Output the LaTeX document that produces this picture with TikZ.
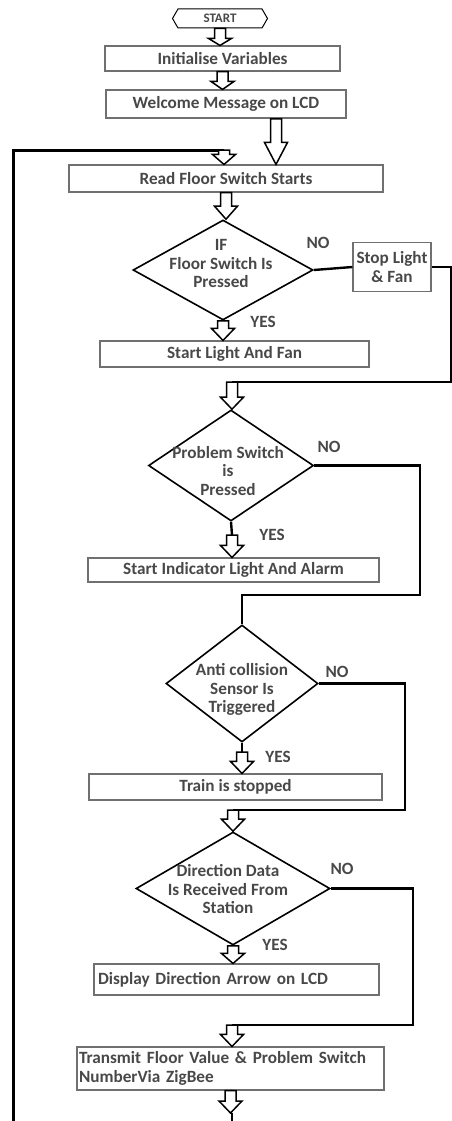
\documentclass[tikz,border=0pt]{standalone}
\usepackage{fontspec}
\setmainfont{Carlito}
\usetikzlibrary{calc,shapes.geometric,shapes.symbols}
\definecolor{txtc}{HTML}{484848}
\definecolor{boxc}{HTML}{707070}
% hollow block arrow from #2 down to #3, head length #1
\newcommand\harr[3][10]{\draw[harrow] let \p1=#2, \p2=#3 in
  (\x1-5.5pt,\y1) -- (\x1-5.5pt,\y2+#1pt) -- (\x1-11.5pt,\y2+#1pt) -- (\x1,\y2)
  -- (\x1+11.5pt,\y2+#1pt) -- (\x1+5.5pt,\y2+#1pt) -- (\x1+5.5pt,\y1) -- cycle;}
\begin{document}
\begin{tikzpicture}[x=1pt,y=-1pt,
  every node/.style={font=\fontsize{17.2}{18.5}\selectfont\bfseries, text=txtc},
  box/.style={draw=boxc, line width=1.1pt, rectangle, inner sep=0pt},
  dia/.style={draw=black, line width=1.6pt, diamond, inner sep=0pt},
  dtext/.style={align=center, inner sep=0pt},
  conn/.style={draw=black, line width=2.4pt},
  harrow/.style={draw=black, line width=1.5pt, fill=white, line join=miter},
  lbl/.style={inner sep=0pt}]
\useasboundingbox (0,0) rectangle (452,1121);

% nodes
\node[draw=black, line width=1pt, signal, signal to=east and west, signal pointer angle=120,
      minimum width=95, minimum height=19, inner sep=0pt,
      font=\fontsize{13}{14}\selectfont\bfseries] (start) at (220,18.5) {START};
\node[box, minimum width=235, minimum height=25] (init) at (222.5,58.5) {Initialise Variables};
\node[box, minimum width=240, minimum height=28] (welcome) at (226,104) {Welcome Message on LCD};
\node[box, minimum width=314, minimum height=27] (read) at (226,178.5) {Read Floor Switch Starts};

\node[dia, minimum width=180, minimum height=100] (d1) at (223,270) {};
\node[dtext] (d1t) at (221,263.5) {IF\\Floor Switch Is\\Pressed};
\node[box, minimum width=78, minimum height=49, align=center] (stop) at (392,267) {Stop Light\\\& Fan};
\node[box, minimum width=269, minimum height=26] (lightfan) at (234.5,354) {Start Light And Fan};

\node[dia, minimum width=165, minimum height=111] (d2) at (231,465.5) {};
\node[dtext] (d2t) at (228,471) {Problem Switch\\is\\Pressed};
\node[box, minimum width=291, minimum height=24] (alarm) at (233.5,570) {Start Indicator Light And Alarm};

\node[dia, minimum width=152, minimum height=117] (d3) at (242,683.5) {};
\node[dtext] (d3t) at (242,689.5) {Anti collision\\Sensor Is\\Triggered};
\node[box, minimum width=293, minimum height=26] (stopped) at (235.5,787) {Train is stopped};

\node[dia, minimum width=194, minimum height=113] (d4) at (233,888.5) {};
\node[dtext] (d4t) at (228,889.5) {Direction Data\\Is Received From\\Station};
\node[box, minimum width=285, minimum height=31, text width=277, inner xsep=4pt, align=left]
      (display) at (236.5,979.5) {Display Direction Arrow on LCD};
\node[box, minimum width=307, minimum height=43, text width=303, inner xsep=2pt, align=left]
      (transmit) at (230.5,1068.5) {Transmit Floor Value \& Problem Switch\\NumberVia ZigBee};

% labels
\node[lbl] (no1) at (318,243) {NO};
\node[lbl] (yes1) at (263,322) {YES};
\node[lbl] (no2) at (329,447) {NO};
\node[lbl] (yes2) at (272,535) {YES};
\node[lbl] (no3) at (337,672) {NO};
\node[lbl] (yes3) at (278,757) {YES};
\node[lbl] (no4) at (342,869) {NO};
\node[lbl] (yes4) at (275,945) {YES};

% coordinates
\coordinate (wa) at (276,119);
\coordinate (la) at (13,1121);
\coordinate (lb) at (13,150);
\coordinate (lc) at (224,150);
\coordinate (s1) at (451,382);
\coordinate (s2) at (232,382);
\coordinate (p1) at (420,595);
\coordinate (p2) at (242,595);
\coordinate (y2) at (232,535);
\coordinate (a1) at (405,810);
\coordinate (a2) at (233,810);
\coordinate (y3) at (242,752);
\coordinate (q1) at (413,1025);
\coordinate (q2) at (232,1025);
\coordinate (tb) at (232,1113);
\coordinate (te) at (232,1121);

% connectors
\draw[conn, line width=3pt] (la) -- (lb) -- (lc);
\draw[conn] (d1.east) -- (stop.west);
\draw[conn] (stop.east) -| (s1) -- (s2);
\draw[conn] (d2.east) -| (p1) -- (p2) -- (d3.north);
\draw[conn] (d2.south) -- (y2);
\draw[conn] (d3.east) -| (a1) -- (a2);
\draw[conn] (d3.south) -- (y3);
\draw[conn] (d4.east) -| (q1) -- (q2);
\draw[conn] (tb) -- (te);

% hollow arrows
\harr[7]{(start.south)}{(init.north)}
\harr[8]{(init.south)}{(welcome.north)}
\harr[22]{(wa)}{(read.north)}
\harr[10]{(lc)}{(read.north)}
\harr[13]{(read.south)}{(d1.north)}
\harr[12]{(d1.south)}{(lightfan.north)}
\harr[12]{(s2)}{(d2.north)}
\harr[12]{(y2)}{(alarm.north)}
\harr[12]{(y3)}{(stopped.north)}
\harr[12]{(a2)}{(d4.north)}
\harr[10]{(d4.south)}{(display.north)}
\harr[12]{(q2)}{(transmit.north)}
\harr[12]{(transmit.south)}{(tb)}
\end{tikzpicture}
\end{document}
